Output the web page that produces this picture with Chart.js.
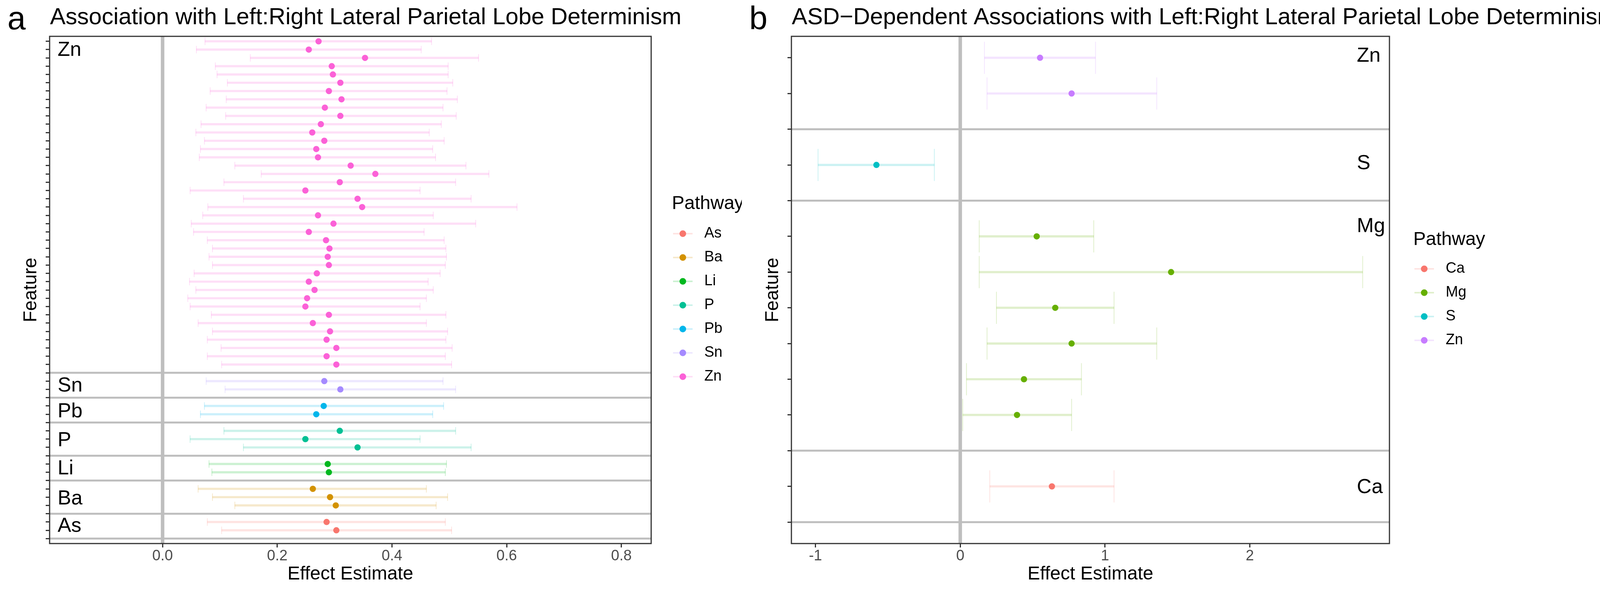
<!DOCTYPE html>
<html>
<head>
<meta charset="utf-8">
<title>Lateral Parietal Lobe Determinism</title>
<script src="https://cdn.jsdelivr.net/npm/chart.js@4.4.1/dist/chart.umd.min.js"></script>
<style>
  html, body { margin: 0; padding: 0; background: #fff; }
  #wrap { position: relative; width: 4154px; height: 1515px; }
  canvas { position: absolute; top: 0; }
  #chartA { left: 0; }
  #chartB { left: 1899px; }
</style>
</head>
<body>
<div id="wrap">
  <canvas id="chartA" width="1899" height="1515"></canvas>
  <canvas id="chartB" width="2255" height="1515"></canvas>
</div>
<script>
// ============ PANEL A DATA ============
// groups top -> bottom, each one followed by a separator row
const aGroups = ['Zn', 'Sn', 'Pb', 'P', 'Li', 'Ba', 'As'];
const aLegend = ['As', 'Ba', 'Li', 'P', 'Pb', 'Sn', 'Zn'];
const aColors = ['#F8766D', '#D39200', '#00B81F', '#00C094', '#00B6EB', '#A58AFF', '#FB61D7'];

const znEstA = [0.272, 0.255, 0.353, 0.295, 0.297, 0.310, 0.290, 0.312, 0.283, 0.310,
                0.276, 0.261, 0.282, 0.268, 0.271, 0.328, 0.371, 0.309, 0.249, 0.340,
                0.348, 0.271, 0.298, 0.255, 0.285, 0.291, 0.288, 0.290, 0.269, 0.255,
                0.265, 0.252, 0.249, 0.290, 0.262, 0.292, 0.286, 0.303, 0.286, 0.303];
const znLoA  = [0.074, 0.059, 0.153, 0.092, 0.095, 0.113, 0.083, 0.111, 0.076, 0.110,
                0.067, 0.058, 0.073, 0.066, 0.064, 0.126, 0.172, 0.107, 0.048, 0.141,
                0.079, 0.070, 0.050, 0.054, 0.078, 0.087, 0.081, 0.087, 0.055, 0.047,
                0.058, 0.044, 0.048, 0.085, 0.062, 0.087, 0.078, 0.102, 0.078, 0.103];
const znHiA  = [0.469, 0.451, 0.551, 0.498, 0.498, 0.506, 0.496, 0.514, 0.489, 0.512,
                0.486, 0.465, 0.491, 0.471, 0.476, 0.529, 0.569, 0.511, 0.449, 0.538,
                0.618, 0.472, 0.546, 0.456, 0.491, 0.494, 0.495, 0.493, 0.484, 0.463,
                0.472, 0.460, 0.449, 0.494, 0.460, 0.497, 0.494, 0.505, 0.493, 0.504];
const snEstA = [0.282, 0.310], snLoA = [0.076, 0.109], snHiA = [0.489, 0.511];
const pbEstA = [0.281, 0.268], pbLoA = [0.073, 0.066], pbHiA = [0.490, 0.471];
const pEstA  = [0.309, 0.249, 0.340], pLoA = [0.107, 0.048, 0.141], pHiA = [0.511, 0.449, 0.538];
const liEstA = [0.288, 0.290], liLoA = [0.081, 0.086], liHiA = [0.495, 0.493];
const baEstA = [0.262, 0.292, 0.302], baLoA = [0.062, 0.087, 0.126], baHiA = [0.460, 0.497, 0.477];
const asEstA = [0.286, 0.303], asLoA = [0.078, 0.103], asHiA = [0.493, 0.504];

// where the group names sit (row units) and their left x (data units)
const aLabelRows = [1.08, 41.6, 44.7, 48.2, 51.6, 55.2, 58.5];
const aLabelX = -0.183;
const aXTicks = { min: -0.197, max: 0.852, step: 0.2 };

// ============ PANEL B DATA ============
const bGroups = ['Zn', 'S', 'Mg', 'Ca'];
const bLegend = ['Ca', 'Mg', 'S', 'Zn'];
const bColors = ['#F8766D', '#66AF00', '#00BFC4', '#C77CFF'];

const znEstB = [0.551, 0.769], znLoB = [0.167, 0.185], znHiB = [0.934, 1.357];
const sEstB  = [-0.579], sLoB = [-0.982], sHiB = [-0.179];
const mgEstB = [0.528, 1.456, 0.656, 0.769, 0.440, 0.392];
const mgLoB  = [0.131, 0.131, 0.250, 0.185, 0.043, 0.017];
const mgHiB  = [0.922, 2.779, 1.062, 1.357, 0.837, 0.769];
const caEstB = [0.633], caLoB = [0.204], caHiB = [1.062];

const bLabelRows = [-0.05, 2.96, 4.72, 12.03];
const bLabelX = 2.739;
const bXTicks = { min: -1.166, max: 2.964, step: 1 };

// ============ STYLE ============
const FONT = '"Liberation Sans", Arial, Helvetica, sans-serif';
const GREY_LINE = '#BEBEBE';
const DARK = '#333333';
Chart.defaults.font.family = FONT;

function fade(hex, a) {
  const n = parseInt(hex.slice(1), 16);
  return `rgba(${n >> 16},${(n >> 8) & 255},${n & 255},${a})`;
}

// half the height of an error bar cap: 0.45 of a row
function capHalf(chart) {
  const y = chart.scales.y;
  return Math.abs(y.getPixelForValue(0.45) - y.getPixelForValue(0));
}

// border, group names, title and legend
const decor = {
  id: 'decor',
  afterDatasetsDraw(chart, args, o) {
    const { ctx, chartArea: ca, scales } = chart;
    ctx.save();
    ctx.strokeStyle = DARK;
    ctx.lineWidth = 3;
    ctx.strokeRect(ca.left, ca.top, ca.right - ca.left, ca.bottom - ca.top);
    ctx.fillStyle = '#000';
    ctx.font = `52px ${FONT}`;
    ctx.textAlign = 'left';
    ctx.textBaseline = 'middle';
    o.groups.forEach((g, i) => {
      ctx.fillText(g, scales.x.getPixelForValue(o.labelX), scales.y.getPixelForValue(o.labelRows[i]));
    });
    ctx.restore();
  },
  afterDraw(chart, args, o) {
    const { ctx } = chart;
    ctx.save();
    ctx.fillStyle = '#000';
    ctx.textAlign = 'left';
    ctx.textBaseline = 'alphabetic';
    ctx.font = `84px ${FONT}`;
    ctx.fillText(o.letter, 19, 75);
    ctx.font = `59.6px ${FONT}`;
    ctx.fillText(o.title, 128, 62);

    // legend
    const L = o.legendBox;
    ctx.font = `48px ${FONT}`;
    ctx.fillText('Pathway', L.x, L.titleBase);
    ctx.font = `38px ${FONT}`;
    ctx.textBaseline = 'middle';
    o.legend.forEach((name, i) => {
      const y = L.firstY + i * 61;
      const col = o.colors[i];
      ctx.strokeStyle = fade(col, 0.2);
      ctx.lineWidth = 4;
      ctx.beginPath();
      ctx.moveTo(L.x + 3, y);
      ctx.lineTo(L.x + 53, y);
      ctx.stroke();
      ctx.fillStyle = col;
      ctx.beginPath();
      ctx.arc(L.x + 28, y, 8.5, 0, Math.PI * 2);
      ctx.fill();
      ctx.fillStyle = '#000';
      ctx.fillText(name, L.x + 83, y);
    });
    ctx.restore();
  }
};

function makePanel(id, p) {
  const datasets = [];
  const seps = [];
  let row = 0;
  p.groups.forEach((g, gi) => {
    const col = p.colors[p.legend.indexOf(g)];
    const est = p.est[gi], lo = p.lo[gi], hi = p.hi[gi];
    const rows = est.map((_, i) => row + i);
    row += est.length;
    seps.push(row);
    row += 1;
    datasets.push({
      type: 'bar', indexAxis: 'y', grouped: false, order: 4,
      data: rows.map((r, i) => ({ x: [lo[i], hi[i]], y: r })),
      backgroundColor: fade(col, 0.2), borderWidth: 0, barThickness: 5
    });
    datasets.push({
      type: 'scatter', order: 3,
      data: rows.flatMap((r, i) => [{ x: lo[i], y: r }, { x: hi[i], y: r }]),
      pointStyle: 'line', pointRotation: 90,
      pointRadius: (ctx) => capHalf(ctx.chart),
      pointBorderColor: fade(col, 0.2), pointBorderWidth: 2
    });
    datasets.push({
      type: 'scatter', order: 1,
      data: rows.map((r, i) => ({ x: est[i], y: r })),
      pointRadius: 8, pointBorderWidth: 0, pointBackgroundColor: col
    });
  });
  const yMax = row - 1 + 0.6;
  seps.forEach(s => datasets.push({
    type: 'line', order: 10, borderColor: GREY_LINE, borderWidth: 5, pointRadius: 0,
    data: [{ x: p.ticks.min, y: s }, { x: p.ticks.max, y: s }]
  }));
  datasets.push({
    type: 'line', order: 11, borderColor: GREY_LINE, borderWidth: 9, pointRadius: 0,
    data: [{ x: 0, y: -0.6 }, { x: 0, y: yMax }]
  });

  const canvas = document.getElementById(id);
  return new Chart(canvas, {
    type: 'scatter',
    data: { datasets },
    options: {
      responsive: false, animation: false, devicePixelRatio: 1, events: [],
      layout: { padding: { left: 0, top: 93, right: canvas.width - p.right, bottom: 0 } },
      plugins: {
        legend: { display: false }, tooltip: { enabled: false },
        decor: {
          groups: p.groups, labelRows: p.labelRows, labelX: p.labelX,
          letter: p.letter, title: p.title,
          legend: p.legend, colors: p.colors, legendBox: p.legendBox
        }
      },
      scales: {
        x: {
          type: 'linear', min: p.ticks.min, max: p.ticks.max, offset: false, beginAtZero: false,
          afterFit: (s) => { s.height = 124; },
          border: { display: false },
          grid: { offset: false, drawOnChartArea: false, drawTicks: true, tickLength: 10, tickWidth: 3, tickColor: DARK },
          ticks: {
            stepSize: p.ticks.step, includeBounds: false, padding: 0,
            color: '#4D4D4D', font: { size: 38 },
            callback: p.fmt
          },
          title: { display: true, text: 'Effect Estimate', color: '#000', font: { size: 48 }, padding: { top: 0, bottom: 16 } }
        },
        y: {
          type: 'linear', reverse: true, min: -0.6, max: yMax, offset: false,
          afterFit: (s) => { s.width = 127; },
          border: { display: false },
          grid: { offset: false, drawOnChartArea: false, drawTicks: true, tickLength: 10, tickWidth: 3, tickColor: DARK },
          ticks: { stepSize: 1, includeBounds: false, display: false },
          title: { display: true, text: 'Feature', color: '#000', font: { size: 48 }, padding: { top: 51, bottom: 0 } }
        }
      }
    },
    plugins: [decor]
  });
}

makePanel('chartA', {
  groups: aGroups, legend: aLegend, colors: aColors,
  est: [znEstA, snEstA, pbEstA, pEstA, liEstA, baEstA, asEstA],
  lo:  [znLoA, snLoA, pbLoA, pLoA, liLoA, baLoA, asLoA],
  hi:  [znHiA, snHiA, pbHiA, pHiA, liHiA, baHiA, asHiA],
  labelRows: aLabelRows, labelX: aLabelX, ticks: aXTicks,
  fmt: (v) => v.toFixed(1),
  right: 1667,
  letter: 'a', title: 'Association with Left:Right Lateral Parietal Lobe Determinism',
  legendBox: { x: 1720, titleBase: 535, firstY: 598 }
});

makePanel('chartB', {
  groups: bGroups, legend: bLegend, colors: bColors,
  est: [znEstB, sEstB, mgEstB, caEstB],
  lo:  [znLoB, sLoB, mgLoB, caLoB],
  hi:  [znHiB, sHiB, mgHiB, caHiB],
  labelRows: bLabelRows, labelX: bLabelX, ticks: bXTicks,
  fmt: (v) => String(Math.round(v)),
  right: 1658,
  letter: 'b', title: 'ASD\u2212Dependent Associations with Left:Right Lateral Parietal Lobe Determinism',
  legendBox: { x: 1719, titleBase: 627, firstY: 688 }
});
</script>
</body>
</html>
